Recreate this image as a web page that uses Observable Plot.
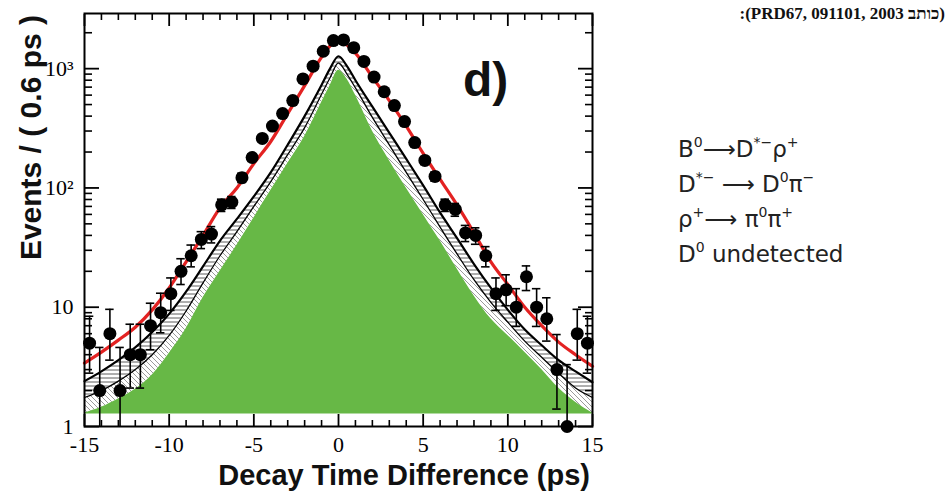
<!DOCTYPE html>
<html><head><meta charset="utf-8">
<script src="https://cdn.jsdelivr.net/npm/d3@7"></script>
<script src="https://cdn.jsdelivr.net/npm/@observablehq/plot@0.6"></script>
<style>
body{margin:0;background:#fff;}
#wrap{position:relative;width:951px;height:492px;overflow:hidden;background:#fff;}
#cite{position:absolute;right:6px;top:4px;font:bold 17px 'Liberation Serif',serif;white-space:nowrap;color:#111;}
</style></head><body><div id="wrap"><div id="cite" dir="rtl">(כותב PRD67, 091101, 2003):</div></div>
<script>
// ---- data ----
const binCenters = [-14.7,-14.1,-13.5,-12.9,-12.3,-11.7,-11.1,-10.5,-9.9,-9.3,-8.7,-8.1,-7.5,-6.9,-6.3,-5.7,-5.1,-4.5,-3.9,-3.3,-2.7,-2.1,-1.5,-0.9,-0.3,0.3,0.9,1.5,2.1,2.7,3.3,3.9,4.5,5.1,5.7,6.3,6.9,7.5,8.1,8.7,9.3,9.9,10.5,11.1,11.7,12.3,12.9,13.5,14.1,14.7];
const counts = [5,2,6,2,4,4,7,9,13,20,27,37,41,72,76,122,180,260,330,420,540,820,1050,1400,1720,1740,1500,1150,850,640,490,360,240,170,125,72,66,42,40,27,13,14,10,18,10,8,3,1,6,5];
const errLow = [2.8,0.7,3.6,0.7,2.1,2.1,4.4,6.1,9.4,15.5,21.8,31,34.6,63.5,67.3,111,167,244,312,400,517,791,1018,1363,1679,1698,1461,1116,821,615,468,341,225,157,114,63.5,57.9,35.5,33.7,21.8,9.4,10.3,6.9,13.8,6.9,5.2,1.4,0.2,3.6,2.8];
const errHigh = [8.4,4.6,9.6,4.6,7.2,7.2,10.8,13.1,17.6,25.5,33.2,43,47.4,80.5,84.7,133,193,276,348,440,563,849,1082,1437,1761,1782,1539,1184,879,665,512,379,255,183,136,80.5,74.1,48.5,46.3,32.2,17.6,18.7,14.3,22.2,14.3,12,5.9,3.3,9.6,8.4];

const curveX = [-15,-14,-13,-12,-11,-10,-9,-8,-7,-6,-5,-4,-3,-2,-1,-0.5,0,0.5,1,2,3,4,5,6,7,8,9,10,11,12,13,14,15];
const totalFit = [3.4,4.2,5.3,6.8,9.5,14.5,24,40,68,100,160,245,420,720,1250,1550,1760,1580,1350,850,540,330,195,118,72,42,24,15.5,10,7,5.1,4,3.2];
const bkgOuter = [2.4,2.9,3.6,4.6,6.2,8.8,13.5,22,36,55,85,135,230,400,730,1000,1270,1050,800,480,290,175,105,62,38,23,14.5,9.5,6.5,4.8,3.6,2.9,2.35];
const bkgInner = [1.75,2.0,2.4,3.0,4.0,5.8,9.3,16,27,43,70,113,190,320,610,840,1120,900,690,390,230,135,80,47,28,17,11,7.5,5.2,3.8,2.8,2.1,1.75];
const signal = [1.3,1.45,1.7,2.05,2.7,4.1,6.6,12,20,33,56,95,160,270,520,720,970,820,600,300,170,100,60,36,21,12.5,8,5.8,4.2,3.0,2.1,1.6,1.3];
const signalFloor = 1.27;

const xMajor = [-15,-10,-5,0,5,10,15];
const xTickLabels = ["-15","-10","-5","0","5","10","15"];
const xMinor = [-14,-13,-12,-11,-9,-8,-7,-6,-4,-3,-2,-1,1,2,3,4,6,7,8,9,11,12,13,14];
const yMajor = [1,10,100,1000];
const yTickLabels = ["1","10","10²","10³"];
const yMinor = [2,3,4,5,6,7,8,9,20,30,40,50,60,70,80,90,200,300,400,500,600,700,800,900,2000];

const points = binCenters.map((x,i)=>({x, n:counts[i], lo:errLow[i], hi:errHigh[i]}));
const curves = curveX.map((x,i)=>({x, fit:totalFit[i], outer:bkgOuter[i], inner:bkgInner[i], sig:signal[i], floor:signalFloor}));
const capHalf = 0.25;

const blank = () => "";
const plot = Plot.plot({
  width: 951, height: 492,
  marginTop: 13, marginRight: 359, marginBottom: 66, marginLeft: 84,
  style: {fontFamily: "'Liberation Serif', serif", fontSize: "22px", background: "white", color: "black"},
  x: {domain: [-15, 15]},
  y: {type: "log", domain: [1, 2900]},
  marks: [
    Plot.areaY(curves, {x: "x", y1: "sig", y2: "inner", fill: "url(#hatchDiag)", curve: "monotone-x"}),
    Plot.areaY(curves, {x: "x", y1: "inner", y2: "outer", fill: "url(#hatchHoriz)", curve: "monotone-x"}),
    Plot.areaY(curves, {x: "x", y1: "floor", y2: "sig", fill: "#67b846", curve: "monotone-x"}),
    Plot.lineY(curves, {x: "x", y: "inner", stroke: "black", strokeWidth: 1.3, curve: "monotone-x"}),
    Plot.lineY(curves, {x: "x", y: "outer", stroke: "black", strokeWidth: 2.2, curve: "monotone-x"}),
    Plot.lineY(curves, {x: "x", y: "fit", stroke: "#e32222", strokeWidth: 3.2, curve: "monotone-x"}),
    Plot.ruleX(points, {x: "x", y1: "lo", y2: "hi", stroke: "black", strokeWidth: 1.6, clip: true}),
    Plot.ruleY(points, {y: "hi", x1: d => d.x - capHalf, x2: d => d.x + capHalf, stroke: "black", strokeWidth: 1.6, clip: true}),
    Plot.ruleY(points.filter(d => d.lo >= 1), {y: "lo", x1: d => d.x - capHalf, x2: d => d.x + capHalf, stroke: "black", strokeWidth: 1.6, clip: true}),
    Plot.dot(points, {x: "x", y: "n", r: 6.5, fill: "black", stroke: "none"}),
    Plot.frame({stroke: "black", strokeWidth: 2}),
    // tick labels
    Plot.axisX({anchor: "bottom", ticks: xMajor, tickSize: 0, tickPadding: 10, tickFormat: d => xTickLabels[xMajor.indexOf(d)], label: null}),
    Plot.axisY({anchor: "left", ticks: yMajor, tickSize: 0, tickPadding: 11, tickFormat: d => yTickLabels[yMajor.indexOf(d)], label: null}),
    // inward ticks on all four sides
    Plot.axisX({anchor: "bottom", ticks: xMajor, tickSize: -12, tickFormat: blank, label: null, strokeWidth: 1.8}),
    Plot.axisX({anchor: "bottom", ticks: xMinor, tickSize: -6, tickFormat: blank, label: null, strokeWidth: 1.6}),
    Plot.axisX({anchor: "top", ticks: xMajor, tickSize: -12, tickFormat: blank, label: null, strokeWidth: 1.8}),
    Plot.axisX({anchor: "top", ticks: xMinor, tickSize: -6, tickFormat: blank, label: null, strokeWidth: 1.6}),
    Plot.axisY({anchor: "left", ticks: yMajor, tickSize: -15, tickFormat: blank, label: null, strokeWidth: 1.8}),
    Plot.axisY({anchor: "left", ticks: yMinor, tickSize: -8, tickFormat: blank, label: null, strokeWidth: 1.6}),
    Plot.axisY({anchor: "right", ticks: yMajor, tickSize: -15, tickFormat: blank, label: null, strokeWidth: 1.8}),
    Plot.axisY({anchor: "right", ticks: yMinor, tickSize: -8, tickFormat: blank, label: null, strokeWidth: 1.6})
  ]
});

const svg = d3.select(plot);
const defs = svg.insert("defs", ":first-child");
const pd = defs.append("pattern").attr("id", "hatchDiag").attr("patternUnits", "userSpaceOnUse").attr("width", 5).attr("height", 5);
pd.append("rect").attr("width", 5).attr("height", 5).attr("fill", "white");
pd.append("path").attr("d", "M-1,-1L6,6M-1,4L1,6M4,-1L6,1").attr("stroke", "#808080").attr("stroke-width", 0.8);
const ph = defs.append("pattern").attr("id", "hatchHoriz").attr("patternUnits", "userSpaceOnUse").attr("width", 4).attr("height", 4);
ph.append("rect").attr("width", 4).attr("height", 4).attr("fill", "white");
ph.append("path").attr("d", "M0,2H4").attr("stroke", "#333").attr("stroke-width", 0.8);

// titles
svg.append("text").attr("transform", "translate(41,15) rotate(-90)").attr("text-anchor", "end")
  .style("font", "bold 30px 'Liberation Sans', Arial, sans-serif").attr("fill", "#111").text("Events / ( 0.6 ps )");
svg.append("text").attr("x", 590).attr("y", 485).attr("text-anchor", "end")
  .style("font", "bold 29px 'Liberation Sans', Arial, sans-serif").attr("fill", "#111").text("Decay Time Difference (ps)");
svg.append("text").attr("x", 463).attr("y", 96).attr("text-anchor", "start")
  .style("font", "bold 48px 'Liberation Sans', Arial, sans-serif").attr("fill", "#111").text("d)");

// decay chain annotation
const annot = [
  [["B",0],["0",1],["⟶D",0],["*−",1],["ρ",0],["+",1]],
  [["D",0],["*−",1],[" ⟶ D",0],["0",1],["π",0],["−",1]],
  [["ρ",0],["+",1],["⟶ π",0],["0",1],["π",0],["+",1]],
  [["D",0],["0",1],[" undetected",0]]
];
const baselines = [157, 192, 227, 262];
annot.forEach((parts, i) => {
  const t = svg.append("text").attr("x", 678).attr("y", baselines[i]).attr("text-anchor", "start")
    .style("font", "23px 'DejaVu Sans', sans-serif").attr("fill", "#222").attr("xml:space", "preserve");
  let sup = false;
  parts.forEach(([s, isSup]) => {
    const ts = t.append("tspan").text(s);
    if (isSup && !sup) { ts.attr("dy", -10).style("font-size", "14px"); sup = true; }
    else if (isSup) { ts.style("font-size", "14px"); }
    else if (sup) { ts.attr("dy", 10); sup = false; }
  });
});

document.getElementById("wrap").appendChild(plot);
</script>
</body></html>
